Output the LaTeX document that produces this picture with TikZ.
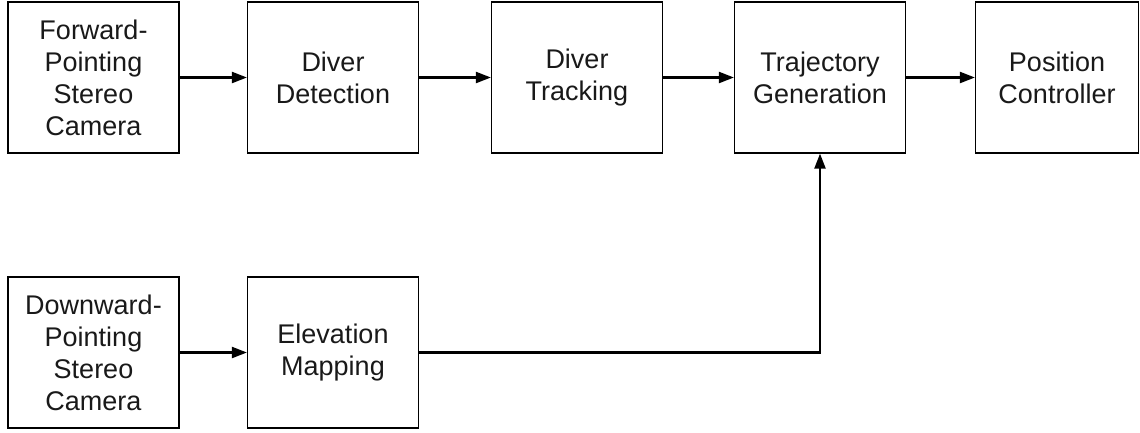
\documentclass[tikz,border=0pt]{standalone}
\usepackage{fontspec}
\setmainfont{Liberation Sans}
\usetikzlibrary{arrows.meta}
\begin{document}
\begin{tikzpicture}[x=1pt,y=-1pt,
  blk/.style={draw, line width=1.2pt, minimum width=171pt, minimum height=151pt, inner sep=0pt, align=center, font=\fontsize{27}{32}\selectfont, text=black!90},
  conn/.style={line width=2.2pt, -{Triangle[length=15pt,width=11pt]}}]
\useasboundingbox (0,0) rectangle (1140,432);
\node[blk] (fwd) at (93.5,77.5) {Forward-\\Pointing\\Stereo\\Camera};
\node[blk] (det) at (333,77.5) {Diver\\Detection};
\node[blk] (trk) at (577,77.5) {Diver\\Tracking};
\node[blk] (traj) at (820,77.5) {Trajectory\\Generation};
\node[blk, minimum width=163pt] (pos) at (1057,77.5) {Position\\Controller};
\node[blk] (down) at (93.5,352.5) {Downward-\\Pointing\\Stereo\\Camera};
\node[blk] (elev) at (333,352.5) {Elevation\\Mapping};
\draw[conn] (fwd) -- (det);
\draw[conn] (det) -- (trk);
\draw[conn] (trk) -- (traj);
\draw[conn] (traj) -- (pos);
\draw[conn] (down) -- (elev);
\draw[conn] (elev.east) -| (traj.south);
\end{tikzpicture}
\end{document}
